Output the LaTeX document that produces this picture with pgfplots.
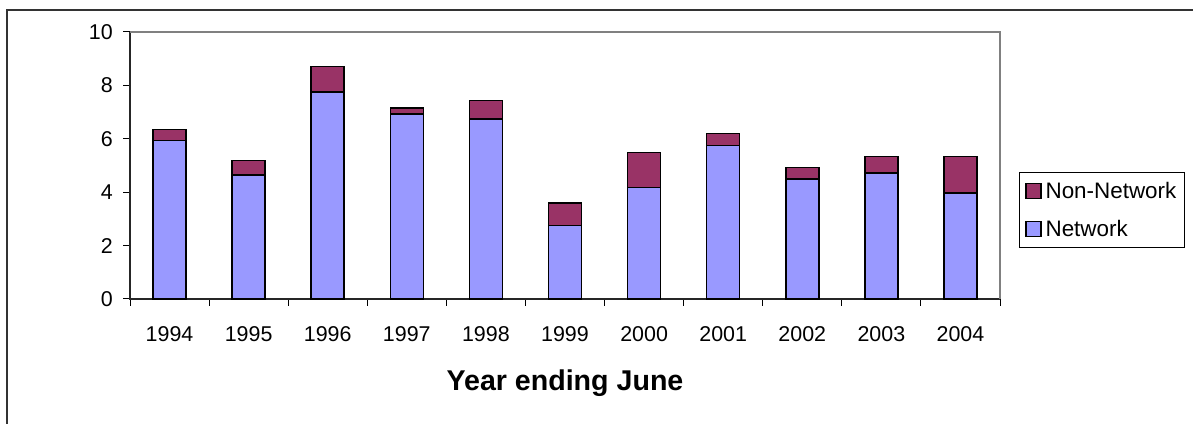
\documentclass[border=0pt]{standalone}
\usepackage{pgfplots}
\pgfplotsset{compat=1.18}
\usepackage{pgfplotstable}
\usepackage{fontspec}
\setmainfont{Liberation Sans}

\definecolor{netblue}{HTML}{9999FF}
\definecolor{nonnet}{HTML}{993366}

% Network and non-network amounts by year ending June
\pgfplotstableread{
x  net   non
0  5.93  0.42
1  4.65  0.54
2  7.76  0.94
3  6.92  0.23
4  6.75  0.68
5  2.75  0.84
6  4.17  1.31
7  5.74  0.46
8  4.50  0.43
9  4.72  0.62
10 3.97  1.37
}\yeardata

\pgfplotsset{
  sqlegend/.style={legend image code/.code={%
    \draw[##1,draw=black,line width=1.2bp] (0bp,-7.5bp) rectangle (15bp,7.5bp);}},
}

\begin{document}
\begin{tikzpicture}
\useasboundingbox (0bp,0bp) rectangle (1193bp,424bp);
% outer chart frame
\draw[line width=2bp, black!80] (6.5bp,-5bp) -- (6.5bp,413.5bp) -- (1200bp,413.5bp);
\begin{axis}[
  at={(130bp,125bp)}, anchor=south west, scale only axis,
  width=870bp, height=267bp,
  ybar stacked, bar width=33bp,
  xmin=-0.5, xmax=10.5, ymin=0, ymax=10,
  ytick={0,2,...,10},
  xtick={0,...,10},
  xticklabels={1994,1995,1996,1997,1998,1999,2000,2001,2002,2003,2004},
  minor xtick={-0.5,0.5,...,10.5},
  major x tick style={draw=none},
  minor x tick style={black, line width=1bp},
  major y tick style={black, line width=1bp},
  tick align=outside,
  major tick length=7bp, minor tick length=7bp,
  xtick pos=bottom, ytick pos=left,
  axis line style={draw=none},
  /pgf/number format/assume math mode=true,
  tick label style={font=\fontsize{21.5}{21.5}\selectfont},
  yticklabel style={inner sep=0bp, xshift=-10bp},
  xticklabel style={inner sep=0bp, yshift=-20bp},
  xlabel={\bfseries Year ending June},
  xlabel style={at={(axis description cs:0.5,0)}, anchor=base, yshift=-91bp,
    font=\fontsize{28.7}{30}\selectfont},
  reverse legend,
  legend cell align=left,
  legend style={at={(axis description cs:1.0218,0.4757)}, anchor=north west,
    draw=black, line width=0.8bp, font=\fontsize{22.5}{22.5}\selectfont,
    inner xsep=6bp, inner ysep=8bp, row sep=16bp,
    /tikz/every odd column/.append style={column sep=2bp}},
  clip=false,
]
\addplot[fill=netblue, draw=black, line width=1.5bp, sqlegend]
  table[x=x, y=net] {\yeardata};
\addlegendentry{Network}
\addplot[fill=nonnet, draw=black, line width=1.5bp, sqlegend]
  table[x=x, y=non] {\yeardata};
\addlegendentry{Non-Network}
% plot area border and axis lines
\draw[gray, line width=1.2bp] (rel axis cs:0,1) -- (rel axis cs:1,1) -- (rel axis cs:1,0);
\draw[black!85, line width=1.3bp] (rel axis cs:0,1) -- (rel axis cs:0,0) -- (rel axis cs:1,0);
\end{axis}
\end{tikzpicture}
\end{document}
